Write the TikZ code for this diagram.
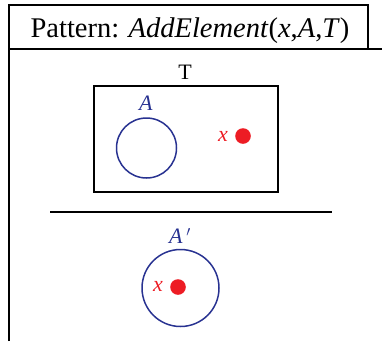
\documentclass[tikz,border=0pt]{standalone}
\usepackage{fontspec}
\setmainfont{Liberation Serif}
\usepackage{tikz}
\usetikzlibrary{calc}

\definecolor{setblue}{RGB}{40,50,145}
\definecolor{elemred}{RGB}{237,28,36}

\tikzset{
  frameline/.style={draw=black, line width=1.3pt},
  setcircle/.style={draw=setblue, line width=1.5pt},
  elemdot/.style={fill=elemred},
  bigtext/.style={font=\fontsize{28.5}{32}\selectfont},
  midtext/.style={font=\fontsize{22}{25}\selectfont},
}

\begin{document}
\begin{tikzpicture}[x=1pt,y=-1pt]
\useasboundingbox (0,0) rectangle (382,341);
% frame of the pattern
\draw[frameline] (9,341) -- (9,5) -- (368,5) -- (368,49);
\draw[frameline] (9,49) -- (382,49);
\node[bigtext, anchor=base] (title) at (190,37) {Pattern: \textit{AddElement}(\textit{x},\textit{A},\textit{T})};

% before
\node[midtext] (tname) at (185,72) {T};
\draw[frameline] (94,86) rectangle (278,192);
\node[midtext, setblue] (aname) at (146,103) {\textit{A}};
\draw[setcircle] (146.5,148) circle (30);
\node[midtext, elemred] (xname) at (223,136) {\textit{x}};
\fill[elemdot] (243,136) circle (7.8);

% after
\draw[black, line width=2pt] (50,212) -- (332,212);
\node[midtext, setblue] (apname) at (180,236) {\textit{A}\,$'$};
\draw[setcircle] (180.5,288) circle (38.5);
\node[midtext, elemred] (xname2) at (158,286) {\textit{x}};
\fill[elemdot] (178,287) circle (7.8);
\end{tikzpicture}
\end{document}
